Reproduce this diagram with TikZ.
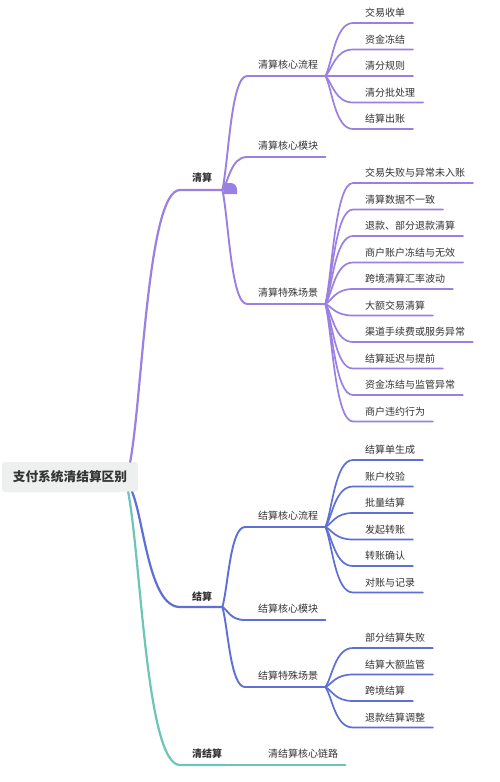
\documentclass[tikz,border=0pt]{standalone}
\usepackage{fontspec}
\setmainfont{Noto Sans CJK SC}
\usetikzlibrary{calc}
\definecolor{pur}{HTML}{9A80E2}
\definecolor{blu}{HTML}{5F6FD8}
\definecolor{tea}{HTML}{6CC6B8}
\definecolor{rootgray}{HTML}{EEEFEF}
\definecolor{txt}{HTML}{333333}
\tikzset{
  curv/.style={to path={let \p1=(\tikztostart), \p2=(\tikztotarget) in
     .. controls ({\x1+0.25*(\x2-\x1)},{\y1+0.25*(\y2-\y1)}) and ({\x1+0.35*(\x2-\x1)},\y2) .. (\tikztotarget)}},
  rootbox/.style={rounded corners=3pt, fill=rootgray, minimum width=136pt, minimum height=30pt,
     inner sep=0pt, text=txt, font=\fontsize{12.7pt}{15pt}\selectfont\bfseries},
  l1txt/.style={inner sep=0pt, text=txt, font=\fontsize{10pt}{12pt}\selectfont\bfseries},
  l2txt/.style={inner sep=0pt, text=txt, font=\fontsize{10pt}{12pt}\selectfont},
  leaftxt/.style={inner sep=0pt, text=txt, font=\fontsize{10pt}{12pt}\selectfont},
  l1line/.style={line width=2.2pt, line cap=round},
  l2line/.style={line width=1.9pt, line cap=round},
  leafline/.style={line width=1.7pt, line cap=round},
}
% leaf: name, parent junction, line y, text, colour
\newcommand\mmleaf[5]{%
  \coordinate (#1-s) at (353,#3);
  \node[leaftxt, anchor=west] (#1) at (365,#3-10) {#4};
  \path (#1.east |- #1-s) ++(7.5,0) coordinate (#1-e);
  \draw[leafline,#5] (#2) to[curv] (#1-s) -- (#1-e);
}
% sub: name, parent junction, line x, line y, text, colour
\newcommand\mmsub[6]{%
  \coordinate (#1-s) at (#3,#4);
  \node[l2txt, anchor=west] (#1) at (258,#4-11) {#5};
  \path (#1.east |- #1-s) ++(7,0) coordinate (#1-e);
  \draw[l2line,#6] (#2) to[curv] (#1-s) -- (#1-e);
}
\begin{document}
\begin{tikzpicture}[x=1pt,y=-1pt]
\useasboundingbox (0,0) rectangle (500,782);
\fill[white] (0,0) rectangle (500,782);

% root
\node[rootbox] (root) at (70,477) {支付系统清结算区别};
\coordinate (r-top) at ([xshift=-8pt]root.north east);
\coordinate (r-b1) at ([xshift=-6pt]root.south east);
\coordinate (r-b2) at ([xshift=-10pt]root.south east);

% level 1
\coordinate (qs-s) at (180,190);
\node[l1txt, anchor=west] (qs) at (192,178) {清算};
\path (qs.east |- qs-s) ++(10,0) coordinate (qs-e);

\coordinate (js-s) at (180,607);
\node[l1txt, anchor=west] (js) at (192,597) {结算};
\path (js.east |- js-s) ++(10,0) coordinate (js-e);

\coordinate (qjs-s) at (180,765);
\node[l1txt, anchor=west] (qjs) at (192,754) {清结算};
\coordinate (qjs-e) at (225,765);

\draw[l1line,tea] (r-b2) to[curv] (qjs-s) -- (qjs-e);
\draw[l1line,blu] (r-b1) to[curv] (js-s) -- (js-e);
\draw[l1line,pur] (r-top) to[curv] (qs-s) -- (qs-e);

% teal child
\node[l2txt, anchor=west] (lian) at (268,754) {清结算核心链路};
\path (lian.east |- qjs-e) ++(7,0) coordinate (lian-e);
\draw[l2line,tea] (qjs-e) -- (lian-e);

% level 2 of 清算
\mmsub{qshx}{qs-e}{247}{76}{清算核心流程}{pur}
\mmsub{qsmk}{qs-e}{247}{157}{清算核心模块}{pur}
\mmsub{qscj}{qs-e}{247}{304}{清算特殊场景}{pur}

% collapse marker
\fill[pur] (223.5,194) -- (223.5,183) -- (230.5,183) .. controls (234.5,183) and (237,186) .. (237,190) -- (237,194) -- cycle;

% level 2 of 结算
\mmsub{jshx}{js-e}{245}{527}{结算核心流程}{blu}
\mmsub{jsmk}{js-e}{245}{620}{结算核心模块}{blu}
\mmsub{jscj}{js-e}{245}{687}{结算特殊场景}{blu}

% leaves 清算核心流程
\mmleaf{a1}{qshx-e}{23}{交易收单}{pur}
\mmleaf{a2}{qshx-e}{49.5}{资金冻结}{pur}
\mmleaf{a3}{qshx-e}{76}{清分规则}{pur}
\mmleaf{a4}{qshx-e}{102.5}{清分批处理}{pur}
\mmleaf{a5}{qshx-e}{129}{结算出账}{pur}

% leaves 清算特殊场景
\mmleaf{b1}{qscj-e}{183}{交易失败与异常未入账}{pur}
\mmleaf{b2}{qscj-e}{209.5}{清算数据不一致}{pur}
\mmleaf{b3}{qscj-e}{236}{退款、部分退款清算}{pur}
\mmleaf{b4}{qscj-e}{262.5}{商户账户冻结与无效}{pur}
\mmleaf{b5}{qscj-e}{289}{跨境清算汇率波动}{pur}
\mmleaf{b6}{qscj-e}{315.5}{大额交易清算}{pur}
\mmleaf{b7}{qscj-e}{342}{渠道手续费或服务异常}{pur}
\mmleaf{b8}{qscj-e}{368.5}{结算延迟与提前}{pur}
\mmleaf{b9}{qscj-e}{395}{资金冻结与监管异常}{pur}
\mmleaf{b10}{qscj-e}{421.5}{商户违约行为}{pur}

% leaves 结算核心流程
\mmleaf{c1}{jshx-e}{460}{结算单生成}{blu}
\mmleaf{c2}{jshx-e}{486.5}{账户校验}{blu}
\mmleaf{c3}{jshx-e}{513}{批量结算}{blu}
\mmleaf{c4}{jshx-e}{539.5}{发起转账}{blu}
\mmleaf{c5}{jshx-e}{566}{转账确认}{blu}
\mmleaf{c6}{jshx-e}{592.5}{对账与记录}{blu}

% leaves 结算特殊场景
\mmleaf{d1}{jscj-e}{648}{部分结算失败}{blu}
\mmleaf{d2}{jscj-e}{674.5}{结算大额监管}{blu}
\mmleaf{d3}{jscj-e}{701}{跨境结算}{blu}
\mmleaf{d4}{jscj-e}{727.5}{退款结算调整}{blu}
\end{tikzpicture}
\end{document}
